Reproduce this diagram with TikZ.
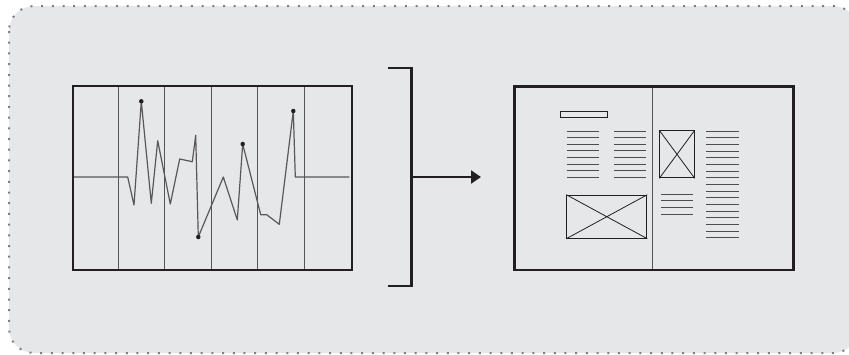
\documentclass[tikz,border=0pt]{standalone}
\usetikzlibrary{arrows.meta}
\definecolor{bgc}{HTML}{E6E7E9}
\definecolor{ink}{HTML}{231F20}
\definecolor{midg}{HTML}{555555}
\definecolor{dotg}{HTML}{808082}
\tikzset{
  frame/.style={draw=ink, line width=2.2pt},
  inner/.style={draw=midg, line width=1pt},
  txt/.style={draw=ink!80, line width=1pt},
  sig/.style={draw=ink!75, line width=1.2pt, line join=round},
  pt/.style={fill=ink, circle, inner sep=0pt, minimum size=4.5pt},
  brk/.style={draw=ink, line width=2.2pt},
}
\begin{document}
\begin{tikzpicture}[x=1pt,y=-1pt]
\useasboundingbox (0,0) rectangle (849,354);
\begin{scope}
\clip (0,0) rectangle (849,354);
\draw[fill=bgc, draw=dotg, line width=2pt, dash pattern=on 2pt off 8.7pt, rounded corners=25pt] (9,6) rectangle (858,353);
\end{scope}

% ---- left chart ----
\foreach \x in {118.3,164.3,211.3,257.7,304} \draw[inner] (\x,85) -- (\x,269);
\draw[sig] (72.7,177) -- (127.7,177) -- (134,205) -- (141.3,101.3) -- (151.3,203.3) -- (157.7,140.7) -- (170.3,204) -- (179.7,159) -- (192.3,161.7) -- (195.7,135.3) -- (198.3,237) -- (223.3,177) -- (237.3,220) -- (242.7,144) -- (260.7,214.7) -- (266.7,214.7) -- (279.3,224.3) -- (293.3,111) -- (295.3,177) -- (349.3,177);
\node[pt] (p1) at (141.3,101.3) {};
\node[pt] (p2) at (198.3,237) {};
\node[pt] (p3) at (242.7,144) {};
\node[pt] (p4) at (293.3,111) {};
\node[frame, minimum width=279pt, minimum height=184pt, inner sep=0pt, anchor=north west] (chart) at (72,85) {};

% ---- bracket and arrow ----
\coordinate (bt) at (388.3,67.7);
\coordinate (bb) at (388.3,286);
\coordinate (bm) at (411.5,177);
\coordinate (tip) at (481,177);
\draw[brk] (bt) -- (411.5,67.7) -- (411.5,286) -- (bb);
\draw[brk, -{Triangle[length=10pt,width=13pt]}] (bm) -- (tip);

% ---- right page ----
\draw[inner] (652.7,85.3) -- (652.7,268.7);
\node[frame, minimum width=279pt, minimum height=183.4pt, inner sep=0pt, anchor=north west] (page) at (513.3,85.3) {};
\node[draw=ink, line width=1pt, minimum width=46.7pt, minimum height=5.4pt, inner sep=0pt, anchor=north west] (title) at (560,111.3) {};
\foreach \i in {0,...,7} {
  \draw[txt] (566.7,131+\i*6.62) -- (598.7,131+\i*6.62);
  \draw[txt] (614.3,131+\i*6.62) -- (646,131+\i*6.62);
}
\foreach \i in {0,...,16} \draw[txt] (706.3,131+\i*6.67) -- (738.7,131+\i*6.67);
\foreach \i in {0,...,3} \draw[txt] (661.3,194.3+\i*6.67) -- (693,194.3+\i*6.67);
\node[draw=ink, line width=1pt, minimum width=80pt, minimum height=43pt, inner sep=0pt, anchor=north west] (img1) at (566.3,194.7) {};
\draw[ink, line width=0.8pt] (img1.north west) -- (img1.south east) (img1.north east) -- (img1.south west);
\node[draw=ink, line width=1pt, minimum width=34.4pt, minimum height=47pt, inner sep=0pt, anchor=north west] (img2) at (659.3,130.3) {};
\draw[ink, line width=0.8pt] (img2.north west) -- (img2.south east) (img2.north east) -- (img2.south west);
\end{tikzpicture}
\end{document}
